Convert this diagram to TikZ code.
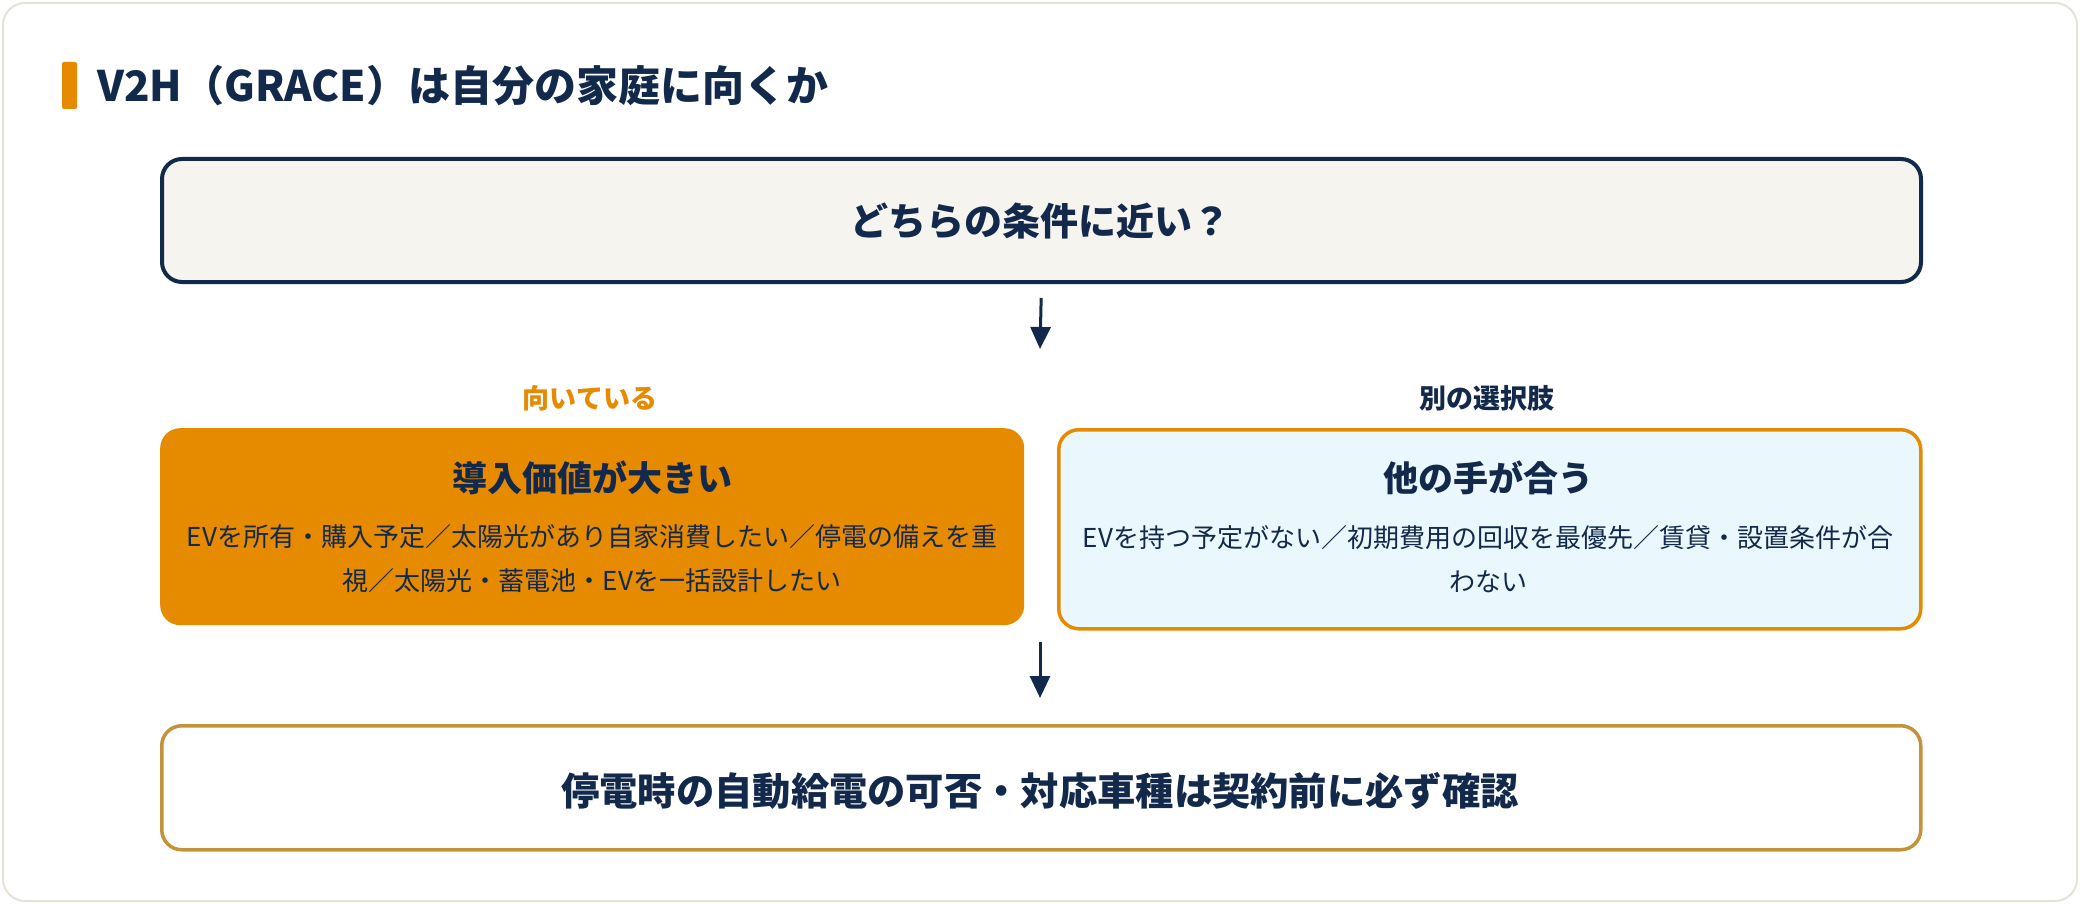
\documentclass[tikz,border=0pt]{standalone}
\usepackage{fontspec}
\setmainfont{Noto Sans CJK JP}
\usetikzlibrary{arrows.meta}
\definecolor{navy}{HTML}{13294B}
\definecolor{orng}{HTML}{E68A00}
\definecolor{gold}{HTML}{C4923A}
\definecolor{cardline}{HTML}{E6E2D6}
\definecolor{qfill}{HTML}{F5F4EF}
\definecolor{bluefill}{HTML}{EAF8FD}
\tikzset{
  box/.style={rounded corners=20pt, inner sep=0pt, anchor=north west},
  arr/.style={draw=navy, line width=3pt, -{Triangle[length=22pt,width=20pt]}},
  ttl/.style={text=navy, font=\fontsize{35}{40}\selectfont\bfseries, inner sep=0pt},
  body/.style={text=navy, align=center, font=\fontsize{26}{44}\selectfont, inner sep=0pt},
  lbl/.style={font=\fontsize{27}{32}\selectfont\bfseries, inner sep=0pt},
}
\begin{document}
\begin{tikzpicture}[x=1pt,y=-1pt]
\useasboundingbox (0,0) rectangle (2080,904);
\fill[white] (0,0) rectangle (2080,904);
\draw[cardline, line width=2pt, fill=white, rounded corners=22pt] (3,3) rectangle (2077,901);
% title
\fill[orng, rounded corners=2pt] (62,62) rectangle (77,109) node[coordinate] (bar) {};
\node[text=navy, anchor=west, inner sep=0pt, font=\fontsize{42}{48}\selectfont\bfseries] (title) at (97,86) {V2H（GRACE）は自分の家庭に向くか};
% top box
\node[box, draw=navy, line width=4pt, fill=qfill, minimum width=1759pt, minimum height=123pt] (q) at (160,157) {};
\node[text=navy, inner sep=0pt, font=\fontsize{38}{40}\selectfont\bfseries] (qt) at (1040,221) {どちらの条件に近い？};
\coordinate (a1) at (1040,349);
\draw[arr, shorten <=14pt] (q.south) -- (a1);
% labels
\node[lbl, text=orng] (l1) at (590,398) {向いている};
\node[lbl, text=navy] (l2) at (1487,398) {別の選択肢};
% left box
\node[box, fill=orng, minimum width=864pt, minimum height=197pt] (lb) at (160,428) {};
\node[ttl] (lt) at (592,478) {導入価値が大きい};
\node[body] (lbody) at (592,559) {EVを所有・購入予定／太陽光があり自家消費したい／停電の備えを重\\視／太陽光・蓄電池・EVを一括設計したい};
% right box
\node[box, draw=orng, line width=3.5pt, fill=bluefill, minimum width=862pt, minimum height=199pt] (rb) at (1057,428) {};
\node[ttl] (rt) at (1488,478) {他の手が合う};
\node[body] (rbody) at (1488,559) {EVを持つ予定がない／初期費用の回収を最優先／賃貸・設置条件が合\\わない};
% arrow 2
\coordinate (a2s) at (1040,642);
\coordinate (a2) at (1040,698);
\draw[arr] (a2s) -- (a2);
% bottom box
\node[box, draw=gold, line width=3.5pt, fill=white, minimum width=1759pt, minimum height=124pt] (bb) at (160,724) {};
\node[text=navy, inner sep=0pt, font=\fontsize{38.3}{40}\selectfont\bfseries] (bt) at (1040,791) {停電時の自動給電の可否・対応車種は契約前に必ず確認};
\end{tikzpicture}
\end{document}
